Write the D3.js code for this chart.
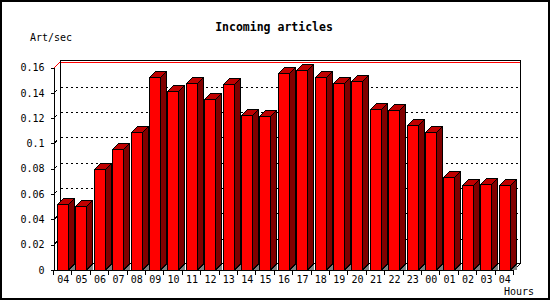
<!DOCTYPE html>
<html>
<head>
<meta charset="utf-8">
<script src="https://cdn.jsdelivr.net/npm/d3@7"></script>
<style>
  body { margin: 0; background: #fff; }
  text { font-family: "DejaVu Sans Mono", monospace; font-size: 10px; fill: #000; }
</style>
</head>
<body>
<div id="chart"></div>
<script>
// Data
var hours = ["04","05","06","07","08","09","10","11","12","13","14","15","16",
             "17","18","19","20","21","22","23","00","01","02","03","04"];
var rates = [0.0525,0.0506,0.0801,0.0958,0.1094,0.1528,0.1415,0.1478,0.1352,0.147,
             0.1226,0.1218,0.1557,0.158,0.1525,0.1478,0.1494,0.1273,0.1265,0.1147,
             0.1092,0.0738,0.0675,0.0683,0.0675];
var yTicks = [0,0.02,0.04,0.06,0.08,0.1,0.12,0.14,0.16];

var width = 550, height = 300;
var depth = 6;   // 3d offset

var svg = d3.select("#chart").append("svg")
    .attr("width", width)
    .attr("height", height)
    .attr("shape-rendering", "crispEdges");

// Outer frame
svg.append("rect")
    .attr("x", 1).attr("y", 1)
    .attr("width", width - 2).attr("height", height - 2)
    .attr("fill", "#fff").attr("stroke", "#000").attr("stroke-width", 2);

// Scales
var x = d3.scaleBand()
    .domain(d3.range(hours.length))
    .range([54, 514]);

var y = d3.scaleLinear()
    .domain([0, 0.16])
    .range([270, 67.5]);

var x0 = x.range()[0], x1 = x.range()[1];
var yBase = y(0), yTop = Math.round(y(0.16));

// Back wall
svg.append("rect")
    .attr("x", x0 + depth + 0.5).attr("y", yTop - depth - 1.5)
    .attr("width", x1 - x0).attr("height", yBase - yTop + 1)
    .attr("fill", "#fff").attr("stroke", "#000").attr("stroke-width", 1);

// Dotted grid on the back wall
var grid = svg.append("g").attr("class", "grid");
yTicks.filter(function(t) { return t > 0 && t < 0.16; }).forEach(function(t) {
    var gy = Math.round(y(t)) - depth + 0.5;
    grid.append("line")
        .attr("x1", x0 + depth + 1).attr("x2", x1 + depth)
        .attr("y1", gy).attr("y2", gy)
        .attr("stroke", "#000").attr("stroke-dasharray", "2,3");
    grid.append("line")
        .attr("x1", x0 + 1).attr("y1", y(t) - 1)
        .attr("x2", x0 + 3).attr("y2", y(t) - 3)
        .attr("stroke", "#000");
});

// Red max line
svg.append("line")
    .attr("x1", x0 + depth + 1).attr("x2", x1 + depth)
    .attr("y1", yTop - depth + 0.5).attr("y2", yTop - depth + 0.5)
    .attr("stroke", "#f00").attr("stroke-width", 1);
svg.append("line")
    .attr("x1", x0).attr("y1", yTop)
    .attr("x2", x0 + depth).attr("y2", yTop - depth)
    .attr("stroke", "#f00");

// Floor edge at the right
svg.append("line")
    .attr("x1", x1).attr("y1", yBase)
    .attr("x2", x1 + depth).attr("y2", yBase - depth)
    .attr("stroke", "#000");

// Bars
var bw = 11;
var bars = svg.append("g").attr("class", "bars")
  .selectAll("g")
  .data(rates)
  .enter().append("g");

bars.append("polygon")   // floor shadow
    .attr("points", function(d, i) {
        var bx = Math.round(x(i)) + 3.5 + bw;
        return [[bx, yBase], [bx + depth, yBase - depth], [bx + depth, yBase]].join(" ");
    })
    .attr("fill", "#808080");

bars.append("rect")
    .attr("x", function(d, i) { return Math.round(x(i)) + 3.5; })
    .attr("y", function(d) { return Math.round(y(d)) + 0.5; })
    .attr("width", bw)
    .attr("height", function(d) { return yBase - Math.round(y(d)) - 0.5; })
    .attr("fill", "#f00")
    .attr("stroke", "#000");

bars.append("polygon")   // top
    .attr("points", function(d, i) {
        var bx = Math.round(x(i)) + 3.5, by = Math.round(y(d)) + 0.5;
        return [[bx, by], [bx + depth, by - depth], [bx + bw + depth, by - depth], [bx + bw, by]].join(" ");
    })
    .attr("fill", "#c00000")
    .attr("stroke", "#000");

bars.append("polygon")   // side
    .attr("points", function(d, i) {
        var bx = Math.round(x(i)) + 3.5 + bw, by = Math.round(y(d)) + 0.5;
        return [[bx, by], [bx + depth, by - depth], [bx + depth, yBase - depth], [bx, yBase]].join(" ");
    })
    .attr("fill", "#800000")
    .attr("stroke", "#000");

// Y axis
var yAxis = svg.append("g")
    .attr("transform", "translate(" + (x0 - 0.5) + ",0)")
    .call(d3.axisLeft(y)
        .tickValues(yTicks)
        .tickFormat(function(d) { return d === 0 ? "0" : d3.format(".2~f")(d); })
        .tickSize(3)
        .tickSizeOuter(0)
        .tickPadding(6));
yAxis.selectAll("text").style("font-family", "DejaVu Sans Mono").style("font-size", "10px");

// X axis
svg.append("line")
    .attr("x1", x0).attr("x2", x1)
    .attr("y1", yBase + 0.5).attr("y2", yBase + 0.5)
    .attr("stroke", "#000");

var xAxis = svg.append("g")
    .attr("transform", "translate(0," + yBase + ")")
    .call(d3.axisBottom(x)
        .tickFormat(function(i) { return hours[i]; })
        .tickSize(0)
        .tickPadding(6));
xAxis.select(".domain").remove();
xAxis.selectAll("text").style("font-family", "DejaVu Sans Mono").style("font-size", "10px");

svg.append("g").selectAll("line")
    .data(d3.range(hours.length + 1))
    .enter().append("line")
    .attr("x1", function(i) { return Math.round(x0 + i * x.step()) - 0.5; })
    .attr("x2", function(i) { return Math.round(x0 + i * x.step()) - 0.5; })
    .attr("y1", yBase).attr("y2", yBase + 5)
    .attr("stroke", "#000");

// Titles
svg.append("text")
    .attr("x", 274).attr("y", 31)
    .attr("text-anchor", "middle")
    .style("font-weight", "bold")
    .style("font-size", "11.5px")
    .text("Incoming articles");

svg.append("text")
    .attr("x", 30).attr("y", 41)
    .text("Art/sec");

svg.append("text")
    .attr("x", 534).attr("y", 295)
    .attr("text-anchor", "end")
    .text("Hours");
</script>
</body>
</html>
